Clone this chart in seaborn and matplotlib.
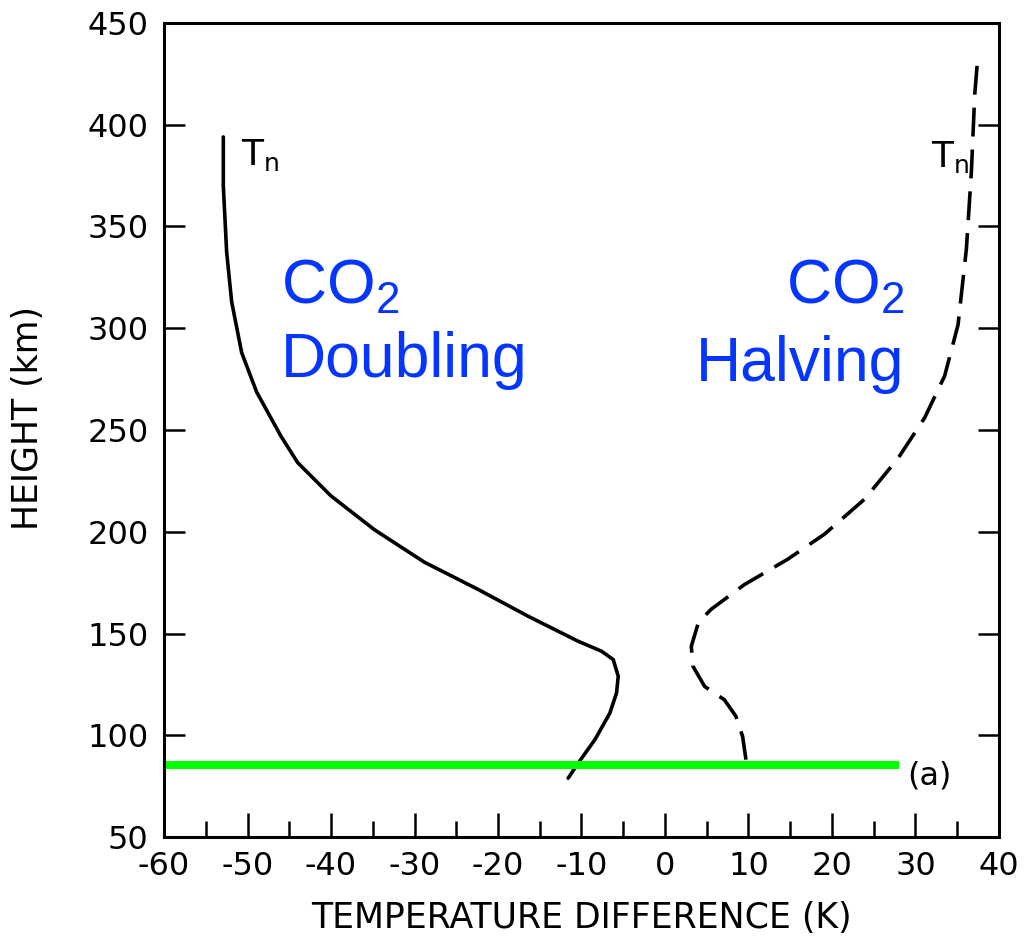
import matplotlib
matplotlib.use("Agg")
import matplotlib.pyplot as plt
from matplotlib.ticker import MultipleLocator
import pandas as pd
import seaborn as sns

# perfiles (altura en km, diferencia de temperatura en K)
h_doubling = [78.9, 86.3, 97.8, 110.9, 120.8, 129, 137.2, 141.3, 146.2, 158.5, 171.7, 185,
              201, 217.6, 234, 247, 268.6, 288, 313, 337.5, 370, 394]
t_doubling = [-11.6, -10.4, -8.4, -6.6, -5.8, -5.6, -6.2, -7.6, -10.4, -16.4, -22.4, -28.8,
              -34.8, -40.0, -44.0, -46.0, -48.9, -50.7, -51.9, -52.5, -52.9, -52.9]

h_halving = [88, 99.4, 109.3, 117.5, 124, 133.9, 143.7, 155.3, 161.8, 174, 186.5, 198.8,
             216, 236, 256, 276.6, 301.7, 339, 377, 414.8, 435]
t_halving = [9.7, 9.3, 8.5, 7.1, 4.75, 3.35, 3.15, 4.0, 5.5, 9.5, 14.7, 19.1,
             23.9, 27.9, 31.1, 33.5, 35.1, 36.1, 36.7, 37.1, 37.5]

mesopause_h = 85.5
mesopause_t = [-60, 28]

x_ticks = [-60, -50, -40, -30, -20, -10, 0, 10, 20, 30, 40]
y_ticks = [50, 100, 150, 200, 250, 300, 350, 400, 450]

sns.set_style("ticks")
plt.rcParams['font.family'] = ['DejaVu Sans']
plt.rcParams['mathtext.fontset'] = 'dejavusans'
plt.rcParams['axes.unicode_minus'] = False
plt.rcParams['text.color'] = 'black'
plt.rcParams['axes.labelcolor'] = 'black'
plt.rcParams['xtick.color'] = 'black'
plt.rcParams['ytick.color'] = 'black'
plt.rcParams['axes.edgecolor'] = 'black'

df_d = pd.DataFrame({'T': t_doubling, 'h': h_doubling})
df_h = pd.DataFrame({'T': t_halving, 'h': h_halving})

fig = plt.figure(figsize=(10.29, 9.49), dpi=100)
ax = fig.add_axes([0.1594, 0.118, 0.8114, 0.8578])

sns.lineplot(data=df_d, x='T', y='h', sort=False, estimator=None, color='black', lw=2.6, ax=ax)
sns.lineplot(data=df_h, x='T', y='h', sort=False, estimator=None, color='black', lw=2.6, ax=ax)
ax.lines[-1].set_dashes((8, 3.6))
for ln in ax.lines:
    ln.set_solid_joinstyle('round')
    ln.set_dash_joinstyle('round')

ax.plot(mesopause_t, [mesopause_h, mesopause_h], color='#00ff00', lw=5.8, solid_capstyle='butt')

ax.set_xlim(-60, 40)
ax.set_ylim(50, 450)
ax.set_xticks(x_ticks)
ax.set_yticks(y_ticks)
ax.xaxis.set_minor_locator(MultipleLocator(5))

for s in ax.spines.values():
    s.set_linewidth(2.2)
    s.set_visible(True)
    s.set_color('black')

ax.tick_params(axis='x', which='major', direction='in', length=17, width=1.8,
               labelsize=23, pad=10, top=False, bottom=True)
ax.tick_params(axis='x', which='minor', direction='in', length=11.5, width=1.8, top=False)
ax.tick_params(axis='y', which='major', direction='in', length=15, width=1.8,
               labelsize=23, pad=11, left=True, right=True)

ax.set_xlabel('TEMPERATURE DIFFERENCE (K)', fontsize=25, labelpad=14)
ax.set_ylabel('HEIGHT (km)', fontsize=25, labelpad=14)
ax.yaxis.set_label_coords(-0.143, 0.515)

ax.text(-50.8, 394, r'T$_\mathregular{n}$', fontsize=26, ha='left', va='top')
ax.text(31.9, 393, r'T$_\mathregular{n}$', fontsize=26, ha='left', va='top')
ax.text(31.7, 80, '(a)', fontsize=23, ha='center', va='center')

blue = '#0536ff'
ax.text(-46, 312, r'CO$_\mathregular{2}$', fontsize=45, color=blue, family='Liberation Sans',
        ha='left', va='baseline')
ax.text(-46, 276, 'Doubling', fontsize=45, color=blue, family='Liberation Sans',
        ha='left', va='baseline')
ax.text(28.7, 312, r'CO$_\mathregular{2}$', fontsize=45, color=blue, family='Liberation Sans',
        ha='right', va='baseline')
ax.text(28.7, 274, 'Halving', fontsize=45, color=blue, family='Liberation Sans',
        ha='right', va='baseline')

plt.savefig('out.png', dpi=100, facecolor='white')
plt.close(fig)
